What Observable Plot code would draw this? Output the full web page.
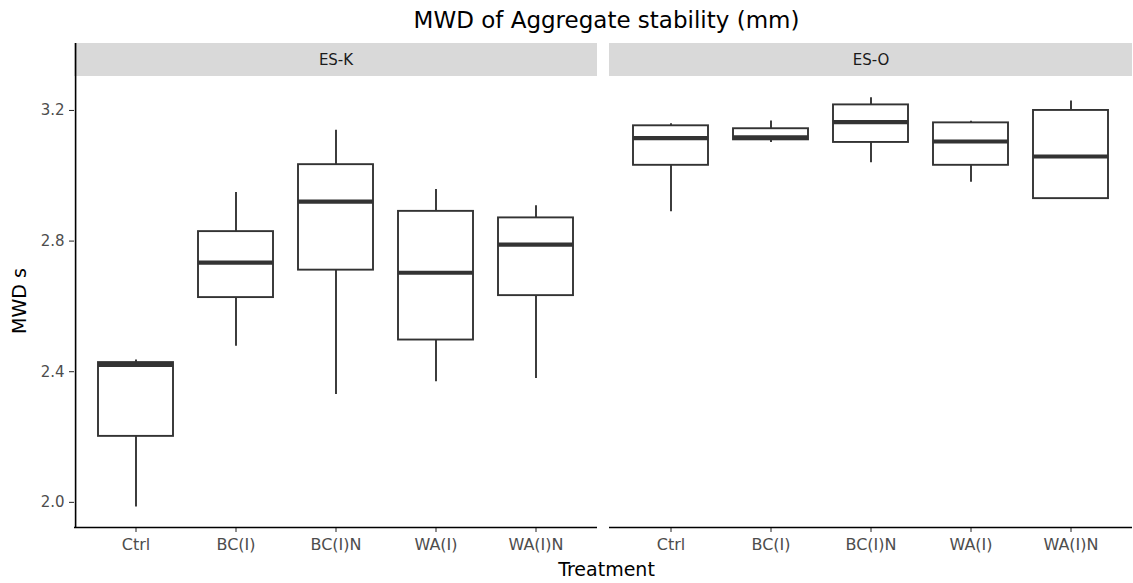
<!DOCTYPE html>
<html>
<head>
<meta charset="utf-8">
<script src="https://cdn.jsdelivr.net/npm/d3@7"></script>
<script src="https://cdn.jsdelivr.net/npm/@observablehq/plot@0.6"></script>
<style>
  html, body { margin: 0; padding: 0; background: #ffffff; }
  body { position: relative; width: 1133px; height: 583px; overflow: hidden; font-family: "DejaVu Sans", "Liberation Sans", Arial, sans-serif; }
  #title { position: absolute; left: 0; top: 0; width: 1133px; height: 38px; line-height: 40px; font-size: 23px; color: #000; text-align: center; padding-left: 80px; box-sizing: border-box; }
  #chart { position: absolute; left: 0; top: 38px; }
  #xtitle { position: absolute; left: 0; top: 557px; width: 1133px; padding-left: 80px; box-sizing: border-box; text-align: center; font-size: 19px; line-height: 24px; color: #000; }
  #ytitle { position: absolute; left: 19px; top: 301px; font-size: 19px; line-height: 22px; color: #000; white-space: nowrap; transform: translate(-50%, -50%) rotate(-90deg); }
</style>
</head>
<body>
<div id="title">MWD of Aggregate stability (mm)</div>
<div id="chart"></div>
<div id="xtitle">Treatment</div>
<div id="ytitle">MWD s</div>
<script>
// Facets and categories
const sites = ["ES-K", "ES-O"];
const treatments = ["Ctrl", "BC(I)", "BC(I)N", "WA(I)", "WA(I)N"];
const yTicks = [2.0, 2.4, 2.8, 3.2];

// ES-K box statistics
const kMin    = [1.986, 2.478, 2.330, 2.369, 2.379];
const kQ1     = [2.202, 2.627, 2.711, 2.497, 2.633];
const kMedian = [2.421, 2.734, 2.921, 2.703, 2.789];
const kQ3     = [2.428, 2.829, 3.034, 2.891, 2.871];
const kMax    = [2.436, 2.949, 3.139, 2.958, 2.908];

// ES-O box statistics
const oMin    = [2.890, 3.102, 3.040, 2.980, 2.930];
const oQ1     = [3.032, 3.110, 3.102, 3.032, 2.930];
const oMedian = [3.115, 3.118, 3.164, 3.105, 3.059];
const oQ3     = [3.153, 3.144, 3.217, 3.162, 3.200];
const oMax    = [3.159, 3.168, 3.239, 3.167, 3.229];

const stats = {
  "ES-K": [kMin, kQ1, kMedian, kQ3, kMax],
  "ES-O": [oMin, oQ1, oMedian, oQ3, oMax]
};
const rows = [];
for (const s of sites) {
  const [mn, q1, md, q3, mx] = stats[s];
  treatments.forEach((t, i) => rows.push({site: s, treatment: t, min: mn[i], q1: q1[i], median: md[i], q3: q3[i], max: mx[i]}));
}
const strips = sites.map(s => ({site: s}));

// y domain: data panel plus space used by the facet strip
const yLow = 1.923, yPanelTop = 3.304, yStripTop = 3.405;

// layout
const W = 1133, H = 545, mL = 74, mR = 0, mT = 5, mB = 56;
const fxPadInner = 0.0224, xPadInner = 0.25, xPadOuter = 0.225;
// offset from first category centre to the left edge of the facet frame (for the y axis line)
const fxStep = (W - mL - mR) / (sites.length - fxPadInner);
const fxBand = fxStep * (1 - fxPadInner);
const xStep = fxBand / (treatments.length - xPadInner + 2 * xPadOuter);
const leftEdgeDx = -(xPadOuter + (1 - xPadInner) / 2) * xStep;

const ink = "#333333";
const chart = Plot.plot({
  width: W,
  height: H,
  marginLeft: mL,
  marginRight: mR,
  marginTop: mT,
  marginBottom: mB,
  style: {fontFamily: "DejaVu Sans, Liberation Sans, Arial, sans-serif", background: "#ffffff"},
  fx: {domain: sites, axis: null, paddingInner: fxPadInner, paddingOuter: 0, label: null},
  x: {domain: treatments, paddingInner: xPadInner, paddingOuter: xPadOuter, label: null},
  y: {domain: [yLow, yStripTop], label: null},
  marks: [
    Plot.rect(strips, {fx: "site", y1: () => yPanelTop, y2: () => yStripTop, fill: "#d9d9d9"}),
    Plot.text(strips, {fx: "site", y: () => (yPanelTop + yStripTop) / 2, text: "site", frameAnchor: "middle", fontSize: 15, fill: "#1a1a1a"}),
    Plot.ruleX(rows, {fx: "site", x: "treatment", y1: "min", y2: "q1", stroke: ink, strokeWidth: 1.9}),
    Plot.ruleX(rows, {fx: "site", x: "treatment", y1: "q3", y2: "max", stroke: ink, strokeWidth: 1.9}),
    Plot.barY(rows, {fx: "site", x: "treatment", y1: "q1", y2: "q3", fill: "#ffffff", stroke: ink, strokeWidth: 1.9}),
    Plot.tickY(rows, {fx: "site", x: "treatment", y: "median", stroke: ink, strokeWidth: 4.2}),
    Plot.axisY({ticks: yTicks, tickFormat: d3.format(".1f"), tickSize: 5, tickPadding: 5, fontSize: 15, fill: "#4d4d4d", stroke: "#222222", label: null}),
    Plot.axisX({tickSize: 5, tickPadding: 6, fontSize: 16, fill: "#4d4d4d", stroke: "#222222", label: null}),
    // axis lines
    Plot.ruleY(strips, {fx: "site", y: () => yLow, stroke: "#000000", strokeWidth: 1.6}),
    Plot.ruleX(strips.slice(0, 1), {fx: "site", x: () => treatments[0], y1: () => yLow, y2: () => yStripTop, dx: leftEdgeDx, stroke: "#000000", strokeWidth: 1.6})
  ]
});
document.getElementById("chart").appendChild(chart);
</script>
</body>
</html>
